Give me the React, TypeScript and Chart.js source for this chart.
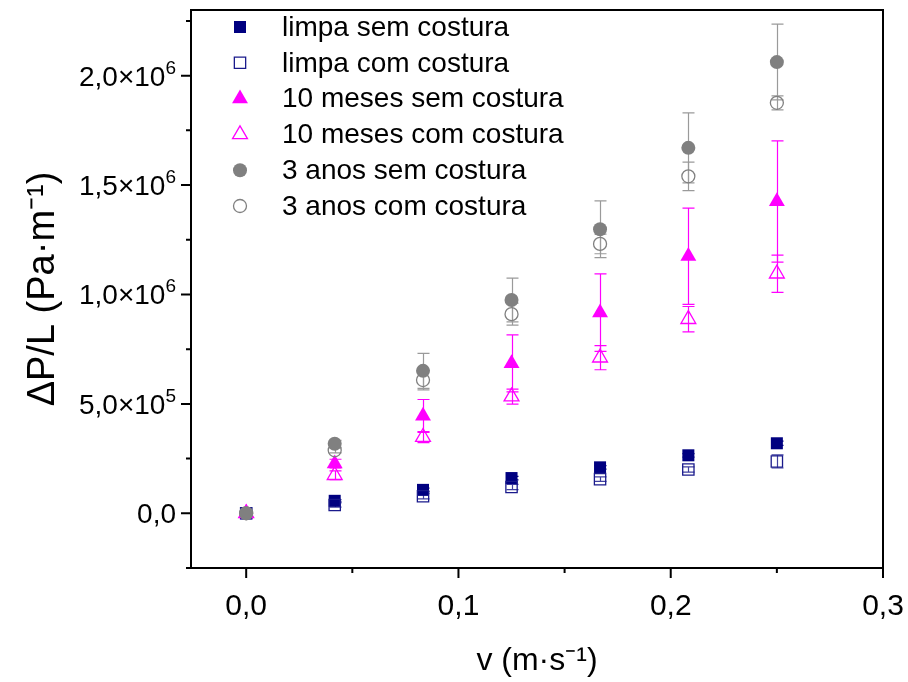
import React, { useEffect, useRef } from 'react';
import { Chart, registerables } from 'chart.js';

Chart.register(...registerables);

// Flow velocity (m/s)
const velocity = [0, 0.0417, 0.0833, 0.125, 0.1667, 0.2083, 0.25];

// Pressure drop per length (Pa/m) and standard deviations
const limpaSem = [0, 57000, 107000, 161000, 210000, 265000, 320000];
const limpaSemErr = [0, 5000, 8000, 8000, 8000, 8000, 10000];
const limpaCom = [0, 38000, 78000, 120000, 156000, 200000, 237000];
const limpaComErr = [0, 10000, 12000, 12000, 10000, 12000, 30000];
const meses10Sem = [0, 227000, 445000, 685000, 917000, 1175000, 1425000];
const meses10SemErr = [0, 20000, 75000, 130000, 177000, 220000, 277000];
const meses10Com = [0, 174000, 348000, 533000, 711000, 887000, 1095000];
const meses10ComErr = [0, 20000, 25000, 34000, 55000, 58000, 85000];
const anos3Sem = [0, 318000, 651000, 975000, 1298000, 1670000, 2062000];
const anos3SemErr = [0, 15000, 80000, 100000, 130000, 160000, 173000];
const anos3Com = [0, 288000, 609000, 910000, 1231000, 1540000, 1876000];
const anos3ComErr = [0, 12000, 45000, 50000, 45000, 65000, 32000];

const seriesLabels = [
  'limpa sem costura',
  'limpa com costura',
  '10 meses sem costura',
  '10 meses com costura',
  '3 anos sem costura',
  '3 anos com costura',
];

const xMajorTicks = [0, 0.1, 0.2, 0.3];
const xMinorTicks = [0.05, 0.15, 0.25];
const xTickLabels = ['0,0', '0,1', '0,2', '0,3'];
const yMajorTicks = [0, 500000, 1000000, 1500000, 2000000];
const yMinorTicks = [-250000, 250000, 750000, 1250000, 1750000, 2250000];
// mantissa and power-of-ten exponent for each major y tick
const yTickMantissas = ['0,0', '5,0×10', '1,0×10', '1,5×10', '2,0×10'];
const yTickExponents = ['', '5', '6', '6', '6'];

const NAVY = '#000080';
const MAGENTA = '#FF00FF';
const GRAY = '#808080';
const FONT = 'Liberation Sans, Arial, sans-serif';

type MarkerStyle = {
  shape: 'rect' | 'triangle' | 'circle';
  radius: number;
  filled: boolean;
  color: string;
  errColor: string;
};

const markerStyles: MarkerStyle[] = [
  { shape: 'rect', radius: 8.5, filled: true, color: NAVY, errColor: NAVY },
  { shape: 'rect', radius: 8, filled: false, color: '#1a1a8c', errColor: '#4040a0' },
  { shape: 'triangle', radius: 9.2, filled: true, color: MAGENTA, errColor: MAGENTA },
  { shape: 'triangle', radius: 8.6, filled: false, color: MAGENTA, errColor: MAGENTA },
  { shape: 'circle', radius: 7, filled: true, color: GRAY, errColor: '#9a9a9a' },
  { shape: 'circle', radius: 6.5, filled: false, color: GRAY, errColor: '#9a9a9a' },
];

const seriesValues = [limpaSem, limpaCom, meses10Sem, meses10Com, anos3Sem, anos3Com];
const seriesErrors = [limpaSemErr, limpaComErr, meses10SemErr, meses10ComErr, anos3SemErr, anos3ComErr];

function drawMarker(ctx: CanvasRenderingContext2D, m: MarkerStyle, x: number, y: number) {
  const r = m.radius;
  ctx.beginPath();
  if (m.shape === 'rect') {
    const s = Math.SQRT1_2 * r;
    ctx.rect(x - s, y - s, 2 * s, 2 * s);
  } else if (m.shape === 'circle') {
    ctx.arc(x, y, r, 0, Math.PI * 2);
  } else {
    let rad = 0;
    ctx.moveTo(x + Math.sin(rad) * r, y - Math.cos(rad) * r);
    rad += (2 * Math.PI) / 3;
    ctx.lineTo(x + Math.sin(rad) * r, y - Math.cos(rad) * r);
    rad += (2 * Math.PI) / 3;
    ctx.lineTo(x + Math.sin(rad) * r, y - Math.cos(rad) * r);
    ctx.closePath();
  }
  if (m.filled) {
    ctx.fillStyle = m.color;
    ctx.fill();
  } else {
    ctx.strokeStyle = m.color;
    ctx.lineWidth = 1.3;
    ctx.stroke();
  }
}

const isIn = (list: number[], v: number) => list.findIndex((t) => Math.abs(t - v) < 1e-9);

// Vertical error bars with caps, drawn beneath the markers
const errorBarsPlugin = {
  id: 'errorBars',
  beforeDatasetsDraw(chart: any) {
    const { ctx, scales } = chart;
    const xs = scales.x;
    const ys = scales.y;
    const cap = 6;
    chart.data.datasets.forEach((ds: any) => {
      const errs: number[] = ds.errors;
      if (!errs) return;
      ctx.save();
      ctx.strokeStyle = ds.errColor;
      ctx.lineWidth = 1.2;
      ds.data.forEach((pt: any, j: number) => {
        const e = errs[j];
        if (!e) return;
        const px = Math.round(xs.getPixelForValue(pt.x)) + 0.5;
        const top = ys.getPixelForValue(pt.y + e);
        const bot = ys.getPixelForValue(pt.y - e);
        ctx.beginPath();
        ctx.moveTo(px, top);
        ctx.lineTo(px, bot);
        ctx.moveTo(px - cap, top);
        ctx.lineTo(px + cap, top);
        ctx.moveTo(px - cap, bot);
        ctx.lineTo(px + cap, bot);
        ctx.stroke();
      });
      ctx.restore();
    });
  },
};

// Closed frame with outward major/minor tick marks, and y tick labels with exponents
const framePlugin = {
  id: 'frame',
  afterDraw(chart: any) {
    const { ctx, chartArea, scales } = chart;
    const { left, right, top, bottom } = chartArea;
    ctx.save();
    ctx.strokeStyle = '#000';
    ctx.lineWidth = 2;
    ctx.strokeRect(left, top, right - left, bottom - top);
    ctx.beginPath();
    xMajorTicks.forEach((v) => {
      const px = scales.x.getPixelForValue(v);
      ctx.moveTo(px, bottom);
      ctx.lineTo(px, bottom + 10);
    });
    xMinorTicks.forEach((v) => {
      const px = scales.x.getPixelForValue(v);
      ctx.moveTo(px, bottom);
      ctx.lineTo(px, bottom + 5);
    });
    yMajorTicks.forEach((v) => {
      const py = scales.y.getPixelForValue(v);
      ctx.moveTo(left, py);
      ctx.lineTo(left - 10, py);
    });
    yMinorTicks.forEach((v) => {
      const py = scales.y.getPixelForValue(v);
      ctx.moveTo(left, py);
      ctx.lineTo(left - 5, py);
    });
    ctx.stroke();

    // y tick labels: mantissa plus raised exponent
    ctx.fillStyle = '#000';
    ctx.textBaseline = 'alphabetic';
    const baseFont = `28px ${FONT}`;
    const expFont = `19px ${FONT}`;
    const rightEdge = left - 15;
    yMajorTicks.forEach((v, i) => {
      const py = scales.y.getPixelForValue(v);
      const baseline = py + 10;
      ctx.font = expFont;
      const expW = yTickExponents[i] ? ctx.measureText(yTickExponents[i]).width : 0;
      ctx.textAlign = 'right';
      if (expW) ctx.fillText(yTickExponents[i], rightEdge, baseline - 12);
      ctx.font = baseFont;
      ctx.fillText(yTickMantissas[i], rightEdge - expW, baseline);
    });
    ctx.restore();
  },
};

// Legend inside the plot area, top-left
const insideLegendPlugin = {
  id: 'insideLegend',
  afterDraw(chart: any) {
    const { ctx, chartArea } = chart;
    const symX = chartArea.left + 49;
    const textX = chartArea.left + 91;
    const firstY = chartArea.top + 17;
    const rowH = 35.8;
    ctx.save();
    ctx.font = `28px ${FONT}`;
    ctx.textBaseline = 'middle';
    ctx.textAlign = 'left';
    seriesLabels.forEach((label, i) => {
      const y = firstY + i * rowH;
      drawMarker(ctx, markerStyles[i], symX, y);
      ctx.fillStyle = '#000';
      ctx.fillText(label, textX, y + 1);
    });
    ctx.restore();
  },
};

export default function App() {
  const canvasRef = useRef<HTMLCanvasElement | null>(null);

  useEffect(() => {
    const canvas = canvasRef.current;
    if (!canvas) return;

    const datasets = seriesLabels.map((label, i) => {
      const m = markerStyles[i];
      return {
        label,
        data: velocity.map((v, j) => ({ x: v, y: seriesValues[i][j] })),
        errors: seriesErrors[i],
        errColor: m.errColor,
        showLine: false,
        pointStyle: m.shape,
        pointRadius: m.radius,
        pointHoverRadius: m.radius,
        pointBackgroundColor: m.filled ? m.color : 'rgba(0,0,0,0)',
        pointBorderColor: m.color,
        pointBorderWidth: m.filled ? 0 : 1.3,
        backgroundColor: m.filled ? m.color : 'rgba(0,0,0,0)',
        borderColor: m.color,
        order: seriesLabels.length - i,
      };
    });

    const chart = new Chart(canvas, {
      type: 'scatter',
      data: { datasets } as any,
      options: {
        animation: false,
        responsive: false,
        devicePixelRatio: 1,
        layout: { padding: { top: 10, right: 25, left: 0, bottom: 0 } },
        plugins: {
          legend: { display: false },
          tooltip: { enabled: false },
        },
        scales: {
          x: {
            type: 'linear',
            min: -0.026,
            max: 0.3,
            grid: { display: false, drawTicks: false },
            border: { display: false },
            afterBuildTicks: (s: any) => {
              s.ticks = [...xMajorTicks, ...xMinorTicks]
                .sort((a, b) => a - b)
                .map((v) => ({ value: v }));
            },
            afterFit: (s: any) => {
              s.height = 114;
              s.paddingLeft = 0;
              s.paddingRight = 0;
            },
            ticks: {
              autoSkip: false,
              maxRotation: 0,
              padding: 21,
              color: '#000',
              font: { family: FONT, size: 30 },
              callback: (v: any) => {
                const k = isIn(xMajorTicks, Number(v));
                return k >= 0 ? xTickLabels[k] : '';
              },
            },
            title: {
              display: true,
              text: 'v (m·s⁻¹)',
              color: '#000',
              font: { family: FONT, size: 32 },
              padding: { top: 0, bottom: 2 },
            },
          },
          y: {
            type: 'linear',
            min: -250000,
            max: 2300000,
            grid: { display: false, drawTicks: false },
            border: { display: false },
            afterBuildTicks: (s: any) => {
              s.ticks = [...yMajorTicks, ...yMinorTicks]
                .sort((a, b) => a - b)
                .map((v) => ({ value: v }));
            },
            afterFit: (s: any) => {
              s.width = 191;
              s.paddingTop = 0;
              s.paddingBottom = 0;
            },
            ticks: { display: false },
            title: {
              display: true,
              text: 'ΔP/L (Pa·m⁻¹)',
              color: '#000',
              font: { family: FONT, size: 38 },
              padding: { top: 21, bottom: 0 },
            },
          },
        },
      } as any,
      plugins: [errorBarsPlugin, framePlugin, insideLegendPlugin],
    });

    return () => {
      chart.destroy();
    };
  }, []);

  return (
    <div style={{ position: 'absolute', left: 0, top: 0, width: 908, height: 682, background: '#fff' }}>
      <canvas ref={canvasRef} width={908} height={682} />
    </div>
  );
}
